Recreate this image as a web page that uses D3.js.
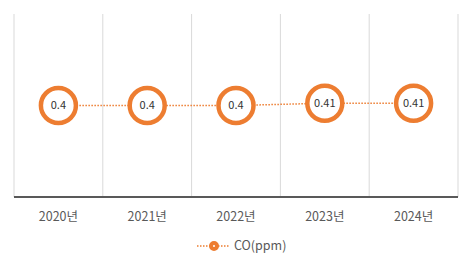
<!DOCTYPE html>
<html>
<head>
<meta charset="utf-8">
<script src="https://cdn.jsdelivr.net/npm/d3@7"></script>
<style>
  body { margin: 0; background: #fff; }
  svg { display: block; font-family: "Noto Sans CJK KR", "Noto Sans", sans-serif; }
</style>
</head>
<body>
<div id="chart"></div>
<script>
// data
const years = ["2020년", "2021년", "2022년", "2023년", "2024년"];
const coValues = [0.4, 0.4, 0.4, 0.41, 0.41];
const seriesName = "CO(ppm)";

const width = 472, height = 265;
const orange = "#ED7D31";

const svg = d3.select("#chart").append("svg")
    .attr("width", width)
    .attr("height", height);

// scales
const x = d3.scaleBand()
    .domain(years)
    .range([14, 458]);

const y = d3.scaleLinear()
    .domain([0, 0.8])
    .range([197, 14]);

// vertical gridlines between categories
const edges = years.map(d => x(d)).concat([x.range()[1]]);
svg.selectAll(".grid")
    .data(edges)
    .enter()
    .append("line")
    .attr("x1", d => d).attr("x2", d => d)
    .attr("y1", y(0.8)).attr("y2", y(0))
    .attr("stroke", "#d9d9d9")
    .attr("stroke-width", 1);

// baseline
svg.append("line")
    .attr("x1", x.range()[0]).attr("x2", x.range()[1])
    .attr("y1", y(0)).attr("y2", y(0))
    .attr("stroke", "#595959")
    .attr("stroke-width", 2);

// x labels
svg.selectAll(".xlab")
    .data(years)
    .enter()
    .append("text")
    .attr("x", d => x(d) + x.bandwidth() / 2)
    .attr("y", 221)
    .attr("text-anchor", "middle")
    .style("font-size", "12.5px")
    .style("fill", "#595959")
    .text(d => d);

// dotted connecting line
const line = d3.line()
    .x((d, i) => x(years[i]) + x.bandwidth() / 2)
    .y(d => y(d));

svg.append("path")
    .datum(coValues)
    .attr("d", line)
    .attr("fill", "none")
    .attr("stroke", orange)
    .attr("stroke-width", 1.5)
    .attr("stroke-dasharray", "1.5,1.5");

// markers
const pts = svg.selectAll(".pt")
    .data(coValues)
    .enter()
    .append("g")
    .attr("transform", (d, i) => `translate(${x(years[i]) + x.bandwidth() / 2}, ${y(d)})`);

pts.append("circle")
    .attr("r", 17.5)
    .attr("fill", "#fff")
    .attr("stroke", orange)
    .attr("stroke-width", 4.5);

pts.append("text")
    .attr("text-anchor", "middle")
    .attr("dy", "0.35em")
    .style("font-size", "11px")
    .style("fill", "#333")
    .text(d => d);

// legend
const lg = svg.append("g").attr("transform", "translate(197, 246)");
lg.append("line")
    .attr("x1", 0).attr("x2", 33)
    .attr("stroke", orange)
    .attr("stroke-width", 1.5)
    .attr("stroke-dasharray", "1.5,1.5");
lg.append("circle")
    .attr("cx", 17)
    .attr("r", 3)
    .attr("fill", "#fff")
    .attr("stroke", orange)
    .attr("stroke-width", 4);
lg.append("text")
    .attr("x", 37)
    .attr("dy", "0.35em")
    .style("font-size", "12.5px")
    .style("fill", "#595959")
    .text(seriesName);
</script>
</body>
</html>
